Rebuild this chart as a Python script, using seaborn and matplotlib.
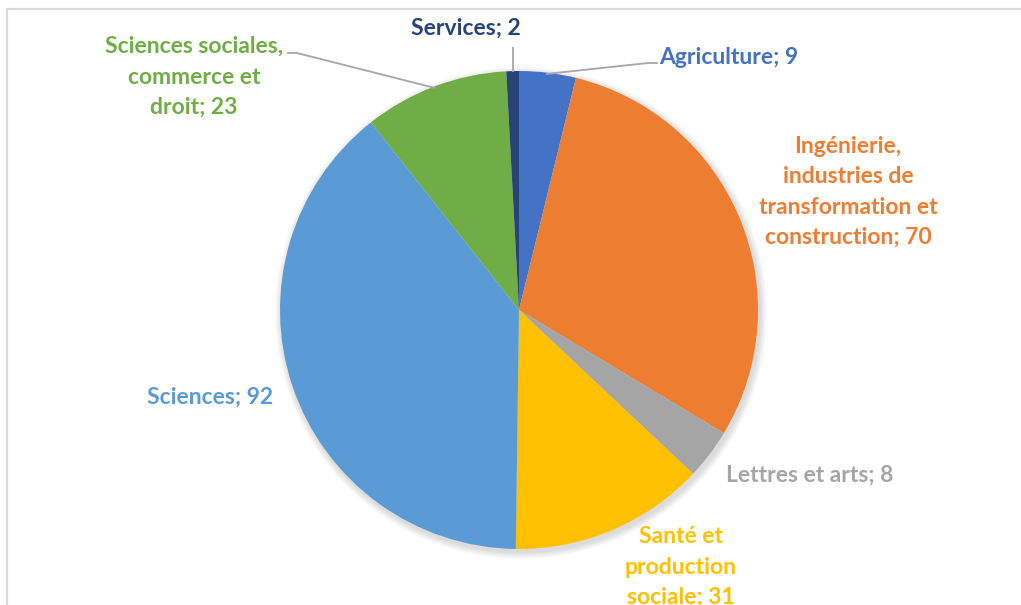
import seaborn as sns
import matplotlib.pyplot as plt
from matplotlib.patches import Rectangle, Circle

# data, clockwise from 12 o'clock
categories = ["Agriculture",
              "Ingénierie,\nindustries de\ntransformation et\nconstruction",
              "Lettres et arts",
              "Santé et\nproduction\nsociale",
              "Sciences",
              "Sciences sociales,\ncommerce et\ndroit",
              "Services"]
values = [9, 70, 8, 31, 92, 23, 2]
colors = ["#4472C4", "#ED7D31", "#A5A5A5", "#FFC000", "#5B9BD5", "#70AD47", "#264478"]

W, H = 1021, 605

sns.set_theme(style="white")
plt.rcParams['font.family'] = ['Lato', 'DejaVu Sans']

fig = plt.figure(figsize=(W / 100, H / 100), dpi=100)
ax = fig.add_axes([0, 0, 1, 1])

# pie in pixel coordinates (y flipped)
cx, cy, r = 519, H - 310, 239

# soft shadow under the pie
for k in range(7):
    ax.add_patch(Circle((cx + 2, cy - 3), r + 7 - k, color="black", alpha=0.018,
                        linewidth=0, zorder=0))

wedges, _ = ax.pie(values, colors=colors, startangle=90, counterclock=False,
                   center=(cx, cy), radius=r, wedgeprops=dict(linewidth=0, zorder=2))
ax.set_xlim(0, W)
ax.set_ylim(0, H)
ax.set_aspect('auto')
ax.axis('off')

# chart border
ax.add_patch(Rectangle((6.5, -20), 1100, H - 8.5 + 20, fill=False,
                       edgecolor="#D9D9D9", linewidth=1.6))

# label placement (pixel centres)
label_pos = [(729, 57), (848, 192), (810, 475), (681, 567), (210, 397), (194, 77), (466, 28)]
for cat, val, col, (x, y) in zip(categories, values, colors, label_pos):
    ax.text(x, H - y, f"{cat}; {val}", color=col, fontsize=16.5, fontweight='bold',
            ha='center', va='center', linespacing=1.55, multialignment='center')

# leader lines
leader = dict(color="#A6A6A6", linewidth=1.3, solid_capstyle='butt')
ax.plot([546, 648, 658], [H - 74, H - 63, H - 63], **leader)
ax.plot([513, 513], [H - 72, H - 47], **leader)
ax.plot([435, 297, 287], [H - 88, H - 53, H - 53], **leader)

fig.savefig("out.png", dpi=100)
